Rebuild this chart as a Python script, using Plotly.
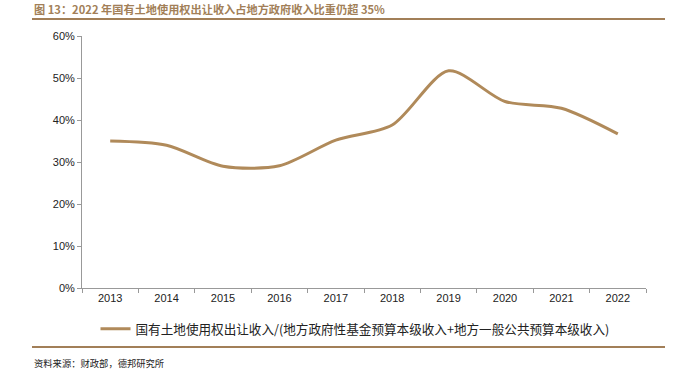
import plotly.graph_objects as go

years = ["2013", "2014", "2015", "2016", "2017", "2018", "2019", "2020", "2021", "2022"]
share = [35.0, 34.0, 29.0, 29.1, 35.2, 38.8, 51.7, 44.4, 42.8, 36.7]
y_ticks = [0, 10, 20, 30, 40, 50, 60]
y_tick_labels = ["0%", "10%", "20%", "30%", "40%", "50%", "60%"]

title_text = "图 13：2022 年国有土地使用权出让收入占地方政府收入比重仍超 35%"
series_name = "国有土地使用权出让收入/(地方政府性基金预算本级收入+地方一般公共预算本级收入)"
source_text = "资料来源：财政部，德邦研究所"

brown = "#b08a5a"
title_color = "#a27f58"

PW, PH = 677, 382
L, T, R, B = 82, 36, 31, 94
plot_w = PW - L - R
plot_h = PH - T - B

def px(xp):
    return (xp - L) / plot_w

def py(yp):
    return (PH - B - yp) / plot_h

fig = go.Figure()
fig.add_trace(go.Scatter(
    x=years, y=share, mode="lines", name=series_name,
    line=dict(color=brown, width=3, shape="spline", smoothing=0.8),
))

fig.update_layout(
    width=PW, height=PH,
    margin=dict(l=L, r=R, t=T, b=B),
    paper_bgcolor="white", plot_bgcolor="white",
    font=dict(family="Liberation Sans, Arial, Noto Sans CJK SC", size=11, color="#222"),
    showlegend=True,
    legend=dict(orientation="h", x=px(355), xanchor="center", y=py(314), yanchor="top",
                font=dict(family="Noto Sans CJK SC", size=12.6, color="#222"),
                itemwidth=30),
    xaxis=dict(type="category", range=[-0.5, 9.5], showline=True, linecolor="#999", linewidth=1,
               ticks="outside", ticklen=4, tickcolor="#999", tickson="boundaries",
               showgrid=False, zeroline=False, tickfont=dict(size=11)),
    yaxis=dict(range=[0, 60], tickvals=y_ticks, ticktext=y_tick_labels,
               showline=True, linecolor="#999", linewidth=1,
               ticks="outside", ticklen=4, tickcolor="#999",
               showgrid=False, zeroline=False, tickfont=dict(size=11)),
    shapes=[
        dict(type="line", xref="paper", yref="paper", x0=px(32), x1=px(665),
             y0=py(19), y1=py(19), line=dict(color=title_color, width=2)),
        dict(type="line", xref="paper", yref="paper", x0=px(32), x1=px(665),
             y0=py(347), y1=py(347), line=dict(color=title_color, width=2)),
    ],
    annotations=[
        dict(text="<b>" + title_text + "</b>", xref="paper", yref="paper",
             x=px(32), y=py(9), xanchor="left", yanchor="middle", showarrow=False,
             font=dict(family="Noto Sans CJK SC", size=11.2, color=title_color)),
        dict(text=source_text, xref="paper", yref="paper",
             x=px(32), y=py(363), xanchor="left", yanchor="middle", showarrow=False,
             font=dict(family="Noto Sans CJK SC", size=9.3, color="#222")),
    ],
)

fig.write_html("out.html", config={"displayModeBar": False},
               post_script="document.body.style.margin='0';")
